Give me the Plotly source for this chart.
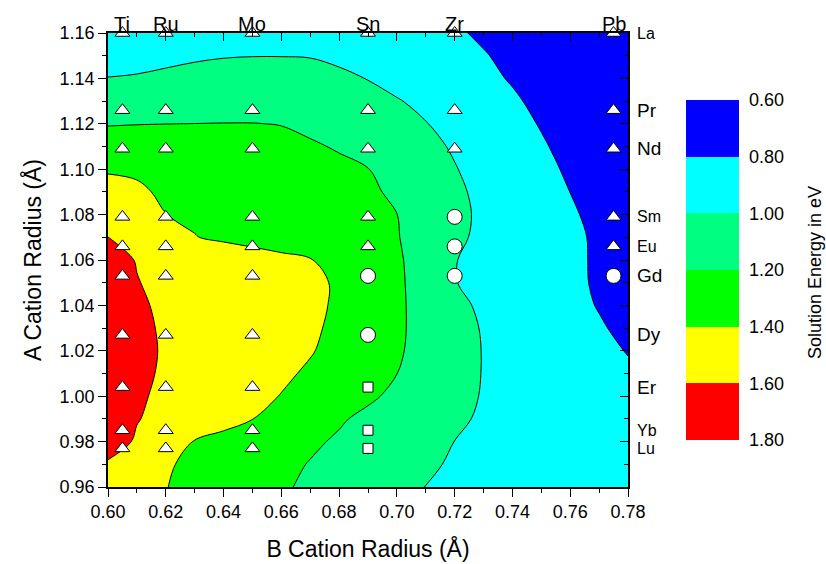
import plotly.graph_objects as go

# ---------------- data ----------------
# grid of B-cation radius (x) and A-cation radius (y), in Angstrom
b_grid = [0.60, 0.61, 0.62, 0.63, 0.64, 0.65, 0.66, 0.67, 0.68, 0.69,
          0.70, 0.71, 0.72, 0.73, 0.74, 0.75, 0.76, 0.77, 0.78]
a_grid = [0.96, 0.97, 0.98, 0.99, 1.00, 1.01, 1.02, 1.03, 1.04, 1.05, 1.06,
          1.07, 1.08, 1.09, 1.10, 1.11, 1.12, 1.13, 1.14, 1.15, 1.16]

# solution energy (eV), one row per A radius
e_096 = [1.500, 1.450, 1.404, 1.357, 1.311, 1.265, 1.219, 1.173, 1.129, 1.085, 1.040, 0.998, 0.981, 0.965, 0.948, 0.931, 0.914, 0.897, 0.880]
e_097 = [1.580, 1.498, 1.417, 1.366, 1.323, 1.280, 1.237, 1.193, 1.149, 1.105, 1.060, 1.016, 0.988, 0.970, 0.952, 0.934, 0.916, 0.898, 0.880]
e_098 = [1.680, 1.581, 1.483, 1.393, 1.351, 1.309, 1.267, 1.224, 1.181, 1.135, 1.089, 1.043, 0.999, 0.977, 0.956, 0.934, 0.913, 0.891, 0.870]
e_099 = [1.668, 1.607, 1.556, 1.505, 1.454, 1.402, 1.341, 1.279, 1.217, 1.165, 1.117, 1.068, 1.020, 0.985, 0.959, 0.933, 0.907, 0.881, 0.855]
e_100 = [1.670, 1.618, 1.573, 1.529, 1.485, 1.441, 1.395, 1.339, 1.282, 1.225, 1.166, 1.105, 1.043, 0.991, 0.961, 0.930, 0.900, 0.870, 0.840]
e_101 = [1.680, 1.625, 1.585, 1.545, 1.505, 1.465, 1.426, 1.379, 1.319, 1.260, 1.201, 1.130, 1.059, 0.994, 0.960, 0.925, 0.890, 0.855, 0.820]
e_102 = [1.687, 1.626, 1.590, 1.554, 1.518, 1.482, 1.446, 1.410, 1.352, 1.285, 1.219, 1.144, 1.066, 0.994, 0.954, 0.914, 0.874, 0.834, 0.794]
e_103 = [1.682, 1.621, 1.588, 1.555, 1.521, 1.488, 1.454, 1.421, 1.372, 1.299, 1.226, 1.146, 1.062, 0.988, 0.944, 0.900, 0.857, 0.813, 0.769]
e_104 = [1.673, 1.614, 1.583, 1.551, 1.520, 1.488, 1.457, 1.425, 1.384, 1.307, 1.229, 1.138, 1.039, 0.973, 0.928, 0.883, 0.838, 0.793, 0.748]
e_105 = [1.657, 1.604, 1.574, 1.544, 1.514, 1.484, 1.455, 1.425, 1.386, 1.308, 1.230, 1.125, 1.005, 0.958, 0.915, 0.871, 0.828, 0.784, 0.741]
e_106 = [1.642, 1.595, 1.563, 1.532, 1.501, 1.470, 1.439, 1.407, 1.351, 1.287, 1.223, 1.124, 1.005, 0.958, 0.914, 0.870, 0.826, 0.783, 0.739]
e_107 = [1.602, 1.535, 1.470, 1.405, 1.374, 1.347, 1.319, 1.291, 1.264, 1.236, 1.208, 1.129, 1.030, 0.967, 0.920, 0.874, 0.827, 0.780, 0.733]
e_108 = [1.470, 1.436, 1.401, 1.376, 1.351, 1.327, 1.302, 1.277, 1.252, 1.225, 1.201, 1.124, 1.039, 0.972, 0.920, 0.868, 0.817, 0.765, 0.714]
e_109 = [1.430, 1.411, 1.389, 1.365, 1.340, 1.316, 1.292, 1.267, 1.243, 1.218, 1.181, 1.104, 1.027, 0.965, 0.910, 0.856, 0.799, 0.745, 0.690]
e_110 = [1.392, 1.390, 1.383, 1.357, 1.331, 1.305, 1.279, 1.253, 1.227, 1.203, 1.142, 1.075, 1.007, 0.950, 0.893, 0.836, 0.780, 0.723, 0.666]
e_111 = [1.290, 1.290, 1.290, 1.285, 1.275, 1.260, 1.240, 1.215, 1.189, 1.139, 1.088, 1.037, 0.985, 0.928, 0.871, 0.815, 0.758, 0.702, 0.645]
e_112 = [1.190, 1.196, 1.199, 1.201, 1.203, 1.203, 1.196, 1.172, 1.130, 1.088, 1.046, 1.005, 0.952, 0.899, 0.845, 0.791, 0.738, 0.684, 0.630]
e_113 = [1.100, 1.105, 1.110, 1.115, 1.120, 1.120, 1.115, 1.100, 1.070, 1.040, 1.009, 0.966, 0.917, 0.867, 0.818, 0.768, 0.719, 0.670, 0.620]
e_114 = [1.003, 1.005, 1.015, 1.030, 1.040, 1.045, 1.045, 1.035, 1.018, 0.997, 0.954, 0.913, 0.872, 0.831, 0.789, 0.748, 0.707, 0.666, 0.625]
e_115 = [0.953, 0.979, 0.982, 0.988, 0.995, 0.998, 0.998, 0.996, 0.982, 0.960, 0.922, 0.884, 0.846, 0.808, 0.770, 0.732, 0.694, 0.656, 0.620]
e_116 = [0.900, 0.930, 0.940, 0.945, 0.950, 0.950, 0.950, 0.945, 0.935, 0.920, 0.885, 0.851, 0.816, 0.781, 0.746, 0.711, 0.676, 0.641, 0.606]

energy_rows = [e_096, e_097, e_098, e_099, e_100, e_101, e_102, e_103, e_104, e_105, e_106,
               e_107, e_108, e_109, e_110, e_111, e_112, e_113, e_114, e_115, e_116]

# colour levels (eV)
level_start = 0.60
level_end = 1.80
level_step = 0.20
level_labels = ["0.60", "0.80", "1.00", "1.20", "1.40", "1.60", "1.80"]

# calculated compositions
b_names = ["Ti", "Ru", "Mo", "Sn", "Zr", "Pb"]
b_ion_radius = [0.605, 0.62, 0.65, 0.69, 0.72, 0.775]
a_names = ["La", "Pr", "Nd", "Sm", "Eu", "Gd", "Dy", "Er", "Yb", "Lu"]
a_ion_radius = [1.16, 1.126, 1.109, 1.079, 1.066, 1.053, 1.027, 1.004, 0.985, 0.977]

# marker kind per (B, A): T = triangle, C = circle, S = square, "" = none
kind_Ti = ["T", "T", "T", "T", "T", "T", "T", "T", "T", "T"]
kind_Ru = ["T", "T", "T", "T", "T", "T", "T", "T", "T", "T"]
kind_Mo = ["T", "T", "T", "T", "T", "T", "T", "T", "T", "T"]
kind_Sn = ["T", "T", "T", "T", "T", "C", "C", "S", "S", "S"]
kind_Zr = ["T", "T", "T", "C", "C", "C", "", "", "", ""]
kind_Pb = ["T", "T", "T", "T", "T", "C", "", "", "", ""]
kinds = [kind_Ti, kind_Ru, kind_Mo, kind_Sn, kind_Zr, kind_Pb]

# ---------------- styles ----------------
FONT = "Liberation Sans, Arial, sans-serif"
band_colors = ["#FF0000", "#FFFF00", "#00FF00", "#00FF80", "#00FFFF", "#0000FF"]  # 1.8 -> 0.6
big_labels = {"Pr", "Nd", "Gd", "Dy", "Er"}

# colour bar runs 0.60 (top) -> 1.80 (bottom): plot the negated energy
neg_z = [[-v for v in row] for row in energy_rows]
n_lev = 7
cscale = [[0.0, band_colors[0]]]
for i, c in enumerate(band_colors):
    cscale.append([(i + 1) / n_lev, c])
cscale.append([1.0, band_colors[-1]])

# stepped scale for the stand-alone colour bar
nb = len(band_colors)
bar_scale = []
for k, c in enumerate(band_colors):
    bar_scale.append([k / nb, c])
    bar_scale.append([(k + 1) / nb, c])

fig = go.Figure()

fig.add_trace(go.Contour(
    x=b_grid, y=a_grid, z=neg_z,
    autocontour=False,
    contours=dict(start=-level_end, end=-level_start, size=level_step,
                  coloring="fill", showlines=False),
    line=dict(width=0, smoothing=1.0),
    colorscale=cscale,
    showscale=False,
    hoverinfo="skip",
))

fig.add_trace(go.Contour(
    x=b_grid, y=a_grid, z=neg_z,
    autocontour=False,
    contours=dict(start=-level_end, end=-level_start, size=level_step,
                  coloring="none", showlines=True),
    line=dict(color="black", width=1, smoothing=1.0),
    showscale=False,
    hoverinfo="skip",
))

symbol_map = {"T": ("triangle-up", 13), "C": ("circle", 15), "S": ("square", 10)}
for key, (sym, size) in symbol_map.items():
    xs, ys = [], []
    for bx, klist in zip(b_ion_radius, kinds):
        for ay, k in zip(a_ion_radius, klist):
            if k == key:
                xs.append(bx)
                ys.append(ay)
    fig.add_trace(go.Scatter(
        x=xs, y=ys, mode="markers", cliponaxis=False, showlegend=False,
        marker=dict(symbol=sym, size=size, color="white",
                    line=dict(color="black", width=1)),
        hoverinfo="skip",
    ))

# invisible trace that carries the stepped colour bar
fig.add_trace(go.Scatter(
    x=[b_grid[9]], y=[a_grid[10]], mode="markers", showlegend=False, hoverinfo="skip",
    marker=dict(color=[-1.0], cmin=-level_end, cmax=-level_start, colorscale=bar_scale,
                opacity=0, size=1, showscale=True,
                colorbar=dict(
                    x=(686 - 108) / 520, xanchor="left", xpad=0,
                    y=(487 - 270) / 454, yanchor="middle", ypad=0,
                    len=340, lenmode="pixels",
                    thickness=53, thicknessmode="pixels",
                    outlinewidth=0,
                    tickvals=[-(level_start + i * level_step) for i in range(len(level_labels))],
                    ticktext=level_labels,
                    ticks="outside", ticklen=7, tickcolor="rgba(0,0,0,0)",
                    tickfont=dict(family=FONT, size=18, color="black"),
                )),
))

annotations = []
for name, bx in zip(b_names, b_ion_radius):
    annotations.append(dict(x=bx, xref="x", y=1, yref="paper", yanchor="bottom",
                            yshift=-4, text=name, showarrow=False,
                            font=dict(family=FONT, size=20, color="black")))
for name, ay in zip(a_names, a_ion_radius):
    annotations.append(dict(x=1, xref="paper", xanchor="left", xshift=7,
                            y=ay, yref="y", yanchor="middle", text=name, showarrow=False,
                            font=dict(family=FONT, size=19 if name in big_labels else 16,
                                      color="black")))
annotations.append(dict(x=(815 - 108) / 520, xref="paper", y=(487 - 273) / 454, yref="paper",
                        text="Solution Energy in eV", textangle=-90, showarrow=False,
                        xanchor="center", yanchor="middle",
                        font=dict(family=FONT, size=18, color="black")))

axis_common = dict(showgrid=False, zeroline=False, showline=True, linecolor="black",
                   linewidth=1.5, tickcolor="black", tickwidth=1.2, automargin=False)

fig.update_layout(
    width=826, height=564,
    margin=dict(l=108, r=198, t=33, b=77, autoexpand=False),
    paper_bgcolor="white", plot_bgcolor="white",
    showlegend=False,
    font=dict(family=FONT, color="black"),
    xaxis=dict(range=[0.60, 0.78], dtick=0.02, tick0=0.60, tickformat=".2f",
               ticks="outside", ticklen=8,
               minor=dict(dtick=0.01, ticks="outside", ticklen=4, tickcolor="black"),
               tickfont=dict(family=FONT, size=18),
               title=dict(text="B Cation Radius (Å)", font=dict(family=FONT, size=23),
                          standoff=20),
               **axis_common),
    xaxis2=dict(range=[0.60, 0.78], dtick=0.02, tick0=0.60, overlaying="x", side="top",
                ticks="inside", ticklen=8, showticklabels=False,
                minor=dict(dtick=0.01, ticks="inside", ticklen=4, tickcolor="black"),
                **axis_common),
    yaxis=dict(range=[0.96, 1.16], dtick=0.02, tick0=0.96, tickformat=".2f",
               ticks="outside", ticklen=8,
               minor=dict(dtick=0.01, ticks="outside", ticklen=4, tickcolor="black"),
               tickfont=dict(family=FONT, size=18),
               title=dict(text="A Cation Radius (Å)", font=dict(family=FONT, size=23),
                          standoff=12),
               **axis_common),
    yaxis2=dict(range=[0.96, 1.16], dtick=0.02, tick0=0.96, overlaying="y", side="right",
                ticks="inside", ticklen=8, showticklabels=False,
                minor=dict(dtick=0.01, ticks="inside", ticklen=4, tickcolor="black"),
                **axis_common),
    annotations=annotations,
)

# invisible trace so the top/right axes are drawn
fig.add_trace(go.Scatter(x=[0.60], y=[0.96], xaxis="x2", yaxis="y2", mode="markers",
                         marker=dict(opacity=0), hoverinfo="skip", showlegend=False))

fig.write_html("out.html")
